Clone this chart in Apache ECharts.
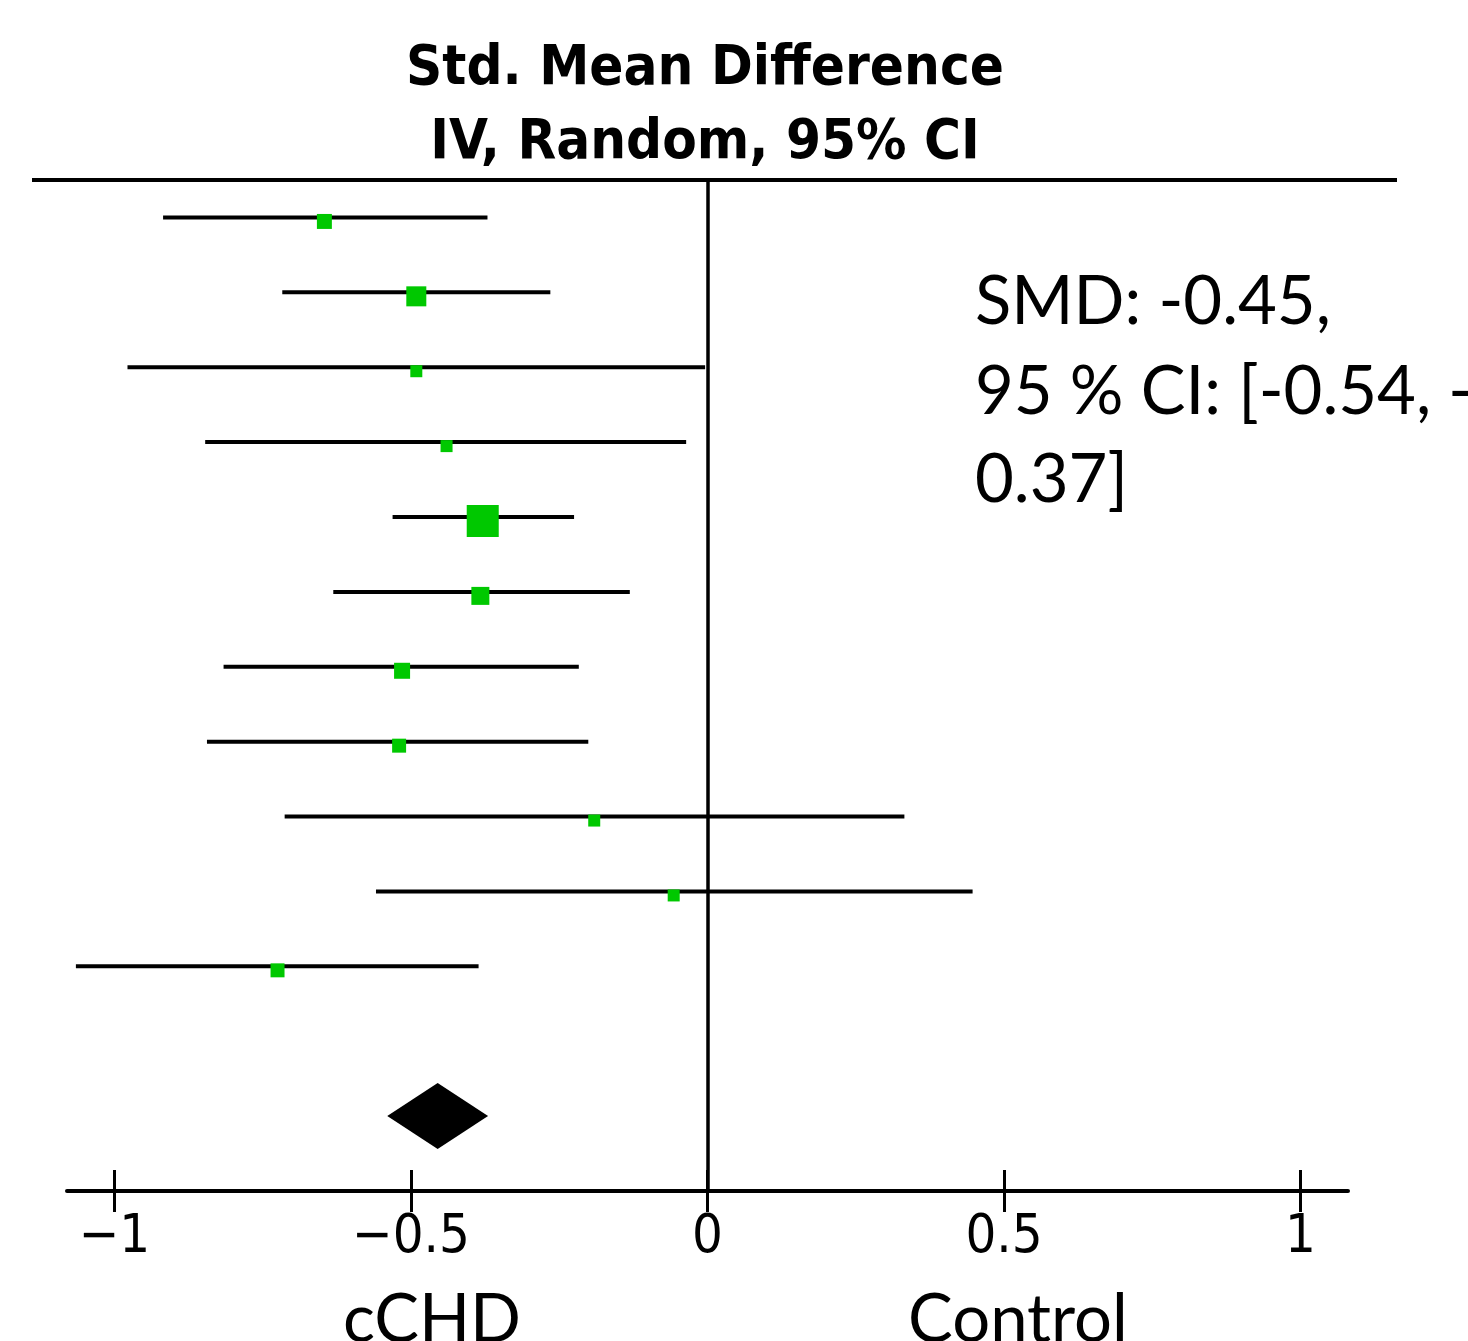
<!DOCTYPE html>
<html>
<head>
<meta charset="utf-8">
<title>Std. Mean Difference forest plot</title>
<script src="https://cdn.jsdelivr.net/npm/echarts@6/dist/echarts.min.js"></script>
<style>
  html, body { margin: 0; padding: 0; background: #fff; }
  #chart { width: 1468px; height: 1341px; }
</style>
</head>
<body>
<div id="chart"></div>
<script>
// study rows (top to bottom)
var studyRows = [1, 2, 3, 4, 5, 6, 7, 8, 9, 10, 11];
var smd    = [-0.646, -0.491, -0.491, -0.440, -0.379, -0.383, -0.515, -0.520, -0.191, -0.057, -0.725];
var ciLow  = [-0.918, -0.717, -0.978, -0.847, -0.531, -0.631, -0.816, -0.844, -0.713, -0.559, -1.065];
var ciHigh = [-0.371, -0.265, -0.004, -0.036, -0.225, -0.131, -0.217, -0.201,  0.332,  0.447, -0.386];
var weights = [7.0, 12.5, 4.5, 4.5, 32.0, 10.1, 8.0, 6.1, 4.5, 4.5, 6.1]; // % (box area)

// pooled estimate
var pooledRow = 13;
var pooled = [-0.455, -0.54, -0.37]; // est, low, high

var tickValues = [-1, -0.5, 0, 0.5, 1];

var studyData = studyRows.map(function (r, i) {
  return [smd[i], r, ciLow[i], ciHigh[i], weights[i]];
});

var tickFont = "'DejaVu Sans Condensed', 'DejaVu Sans', sans-serif";
var titleFont = "bold 56px 'DejaVu Sans Condensed', 'DejaVu Sans', sans-serif";
var textFont = "67px Lato, 'Open Sans', sans-serif";

var myChart = echarts.init(document.getElementById('chart'));

function renderStudy(params, api) {
  var row = api.value(1);
  var lo = api.coord([api.value(2), row]);
  var hi = api.coord([api.value(3), row]);
  var mid = api.coord([api.value(0), row]);
  var side = Math.sqrt(api.value(4)) * 5.66;
  return {
    type: 'group',
    children: [
      { type: 'line', shape: { x1: lo[0], y1: lo[1], x2: hi[0], y2: hi[1] },
        style: { stroke: '#000', lineWidth: 4 } },
      { type: 'rect', shape: { x: mid[0] - side / 2, y: mid[1] - side / 2 + 4, width: side, height: side },
        style: { fill: '#00c800' } }
    ]
  };
}

function renderDiamond(params, api) {
  var row = api.value(1);
  var c = api.coord([api.value(0), row]);
  var lo = api.coord([api.value(2), row]);
  var hi = api.coord([api.value(3), row]);
  var h = 33;
  return {
    type: 'polygon',
    shape: { points: [[lo[0], c[1]], [c[0], c[1] - h], [hi[0], c[1]], [c[0], c[1] + h]] },
    style: { fill: '#000' }
  };
}

myChart.setOption({
  backgroundColor: '#fff',
  animation: false,
  grid: { left: 67, right: 120, top: 180, bottom: 150 },
  xAxis: [
    {
      type: 'value', min: -1.08, max: 1.08, position: 'bottom',
      splitLine: { show: false },
      axisLine: { show: true, lineStyle: { color: '#000', width: 4 } },
      axisTick: { show: true, length: 21, customValues: tickValues, lineStyle: { color: '#000', width: 3 } },
      axisLabel: {
        customValues: tickValues, margin: 20, color: '#000',
        fontFamily: tickFont, fontSize: 54,
        formatter: function (v) { return String(v).replace('-', '\u2212'); }
      }
    },
    {
      type: 'value', min: -1.08, max: 1.08, position: 'bottom',
      splitLine: { show: false },
      axisLine: { show: false },
      axisTick: { show: true, inside: true, length: 21, customValues: tickValues, lineStyle: { color: '#000', width: 3 } },
      axisLabel: { show: false }
    }
  ],
  yAxis: { type: 'value', inverse: true, min: 0.5, max: 14, show: false },
  series: [
    {
      name: 'Studies', type: 'custom', renderItem: renderStudy,
      encode: { x: [0, 2, 3], y: 1 },
      data: studyData,
      markLine: {
        silent: true, symbol: 'none', label: { show: false },
        lineStyle: { color: '#000', width: 3.5, type: 'solid' },
        data: [{ xAxis: 0 }]
      }
    },
    {
      name: 'Pooled', type: 'custom', renderItem: renderDiamond,
      encode: { x: [0, 2, 3], y: 1 },
      data: [[pooled[0], pooledRow, pooled[1], pooled[2]]]
    }
  ],
  graphic: [
    { type: 'line', shape: { x1: 32, y1: 180, x2: 1397, y2: 180 }, style: { stroke: '#000', lineWidth: 4 } },
    { type: 'text', x: 705, y: 69, style: { text: 'Std. Mean Difference', fill: '#000',
        font: titleFont, textAlign: 'center', textVerticalAlign: 'middle' } },
    { type: 'text', x: 705, y: 143, style: { text: 'IV, Random, 95% CI', fill: '#000',
        font: titleFont, textAlign: 'center', textVerticalAlign: 'middle' } },
    { type: 'text', x: 975, y: 302, style: { text: 'SMD: -0.45,', fill: '#000', font: textFont, textVerticalAlign: 'middle' } },
    { type: 'text', x: 975, y: 392, style: { text: '95 % CI: [-0.54, -', fill: '#000', font: textFont, textVerticalAlign: 'middle' } },
    { type: 'text', x: 975, y: 480, style: { text: '0.37]', fill: '#000', font: textFont, textVerticalAlign: 'middle' } },
    { type: 'text', x: 432, y: 1320, style: { text: 'cCHD', fill: '#000', font: textFont, textAlign: 'center', textVerticalAlign: 'middle' } },
    { type: 'text', x: 1018, y: 1320, style: { text: 'Control', fill: '#000', font: textFont, textAlign: 'center', textVerticalAlign: 'middle' } }
  ]
});
</script>
</body>
</html>
